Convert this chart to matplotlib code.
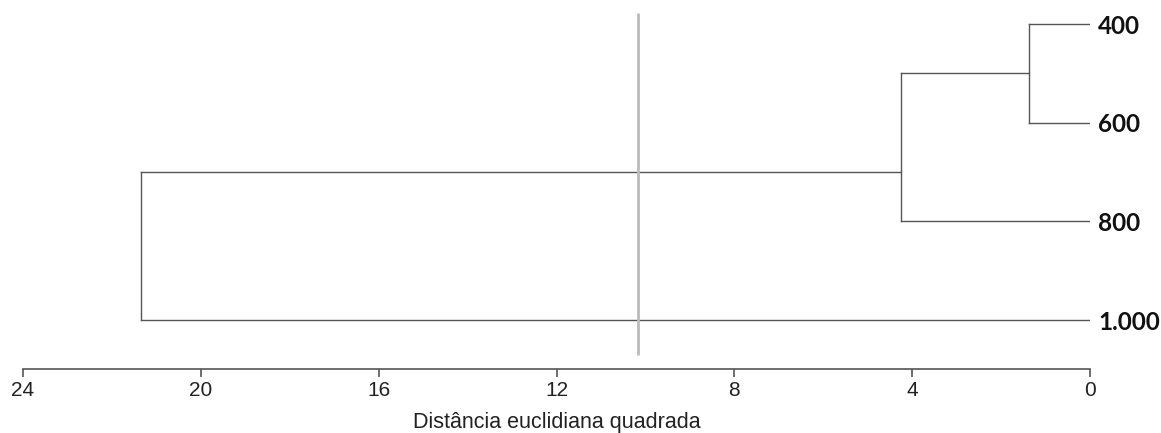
import numpy as np
import matplotlib.pyplot as plt

# leaves (top to bottom) and the merges
leaves = ['400', '600', '800', '1.000']
# each merge: child a, child b, distance ; nodes 4,5,6 are created in order
merge_a = [0, 4, 5]
merge_b = [1, 2, 3]
merge_dist = [1.37, 4.26, 21.35]
# vertical position where each new node leaves to its parent
node_pos = [0.5, 1.5, 2.25]
cut_dist = 10.17

xticks = [24, 20, 16, 12, 8, 4, 0]

fig = plt.figure(figsize=(11.61, 4.33), dpi=100)
ax = fig.add_axes([23/1161, (433-369)/433, (1090-23)/1161, 369/433])

line_col = '#555555'
pos = {i: float(i) for i in range(len(leaves))}
height = {i: 0.0 for i in range(len(leaves))}
for k in range(len(merge_dist)):
    a, b, d = merge_a[k], merge_b[k], merge_dist[k]
    ax.plot([height[a], d], [pos[a], pos[a]], color=line_col, lw=1)
    ax.plot([height[b], d], [pos[b], pos[b]], color=line_col, lw=1)
    ax.plot([d, d], [pos[a], pos[b]], color=line_col, lw=1)
    new = len(leaves) + k
    pos[new] = node_pos[k]
    height[new] = d

# cut line
ax.plot([cut_dist, cut_dist], [-0.11, 3.355], color='#bbbbbb', lw=2, solid_capstyle='butt')

for i, lab in enumerate(leaves):
    ax.annotate(lab, (0, i), xytext=(6, 0), textcoords='offset points',
                ha='left', va='center_baseline', fontsize=17.5, fontweight='bold',
                family='Lato', color='#111111', annotation_clip=False)

ax.set_xlim(24, 0)
ax.set_ylim((369-24)/98.67, -24/98.67)
ax.set_xticks(xticks)
ax.set_xticklabels([str(t) for t in xticks], fontsize=15, family='Liberation Sans', color='#222222')
ax.set_yticks([])
for s in ['left', 'top', 'right']:
    ax.spines[s].set_visible(False)
ax.spines['bottom'].set_color(line_col)
ax.spines['bottom'].set_linewidth(1.2)
ax.tick_params(axis='x', direction='out', length=6, width=1.2, color=line_col, pad=3)
ax.set_xlabel('Distância euclidiana quadrada', fontsize=15.5, family='Liberation Sans',
              color='#222222', labelpad=8)

fig.savefig('out.png', dpi=100)
